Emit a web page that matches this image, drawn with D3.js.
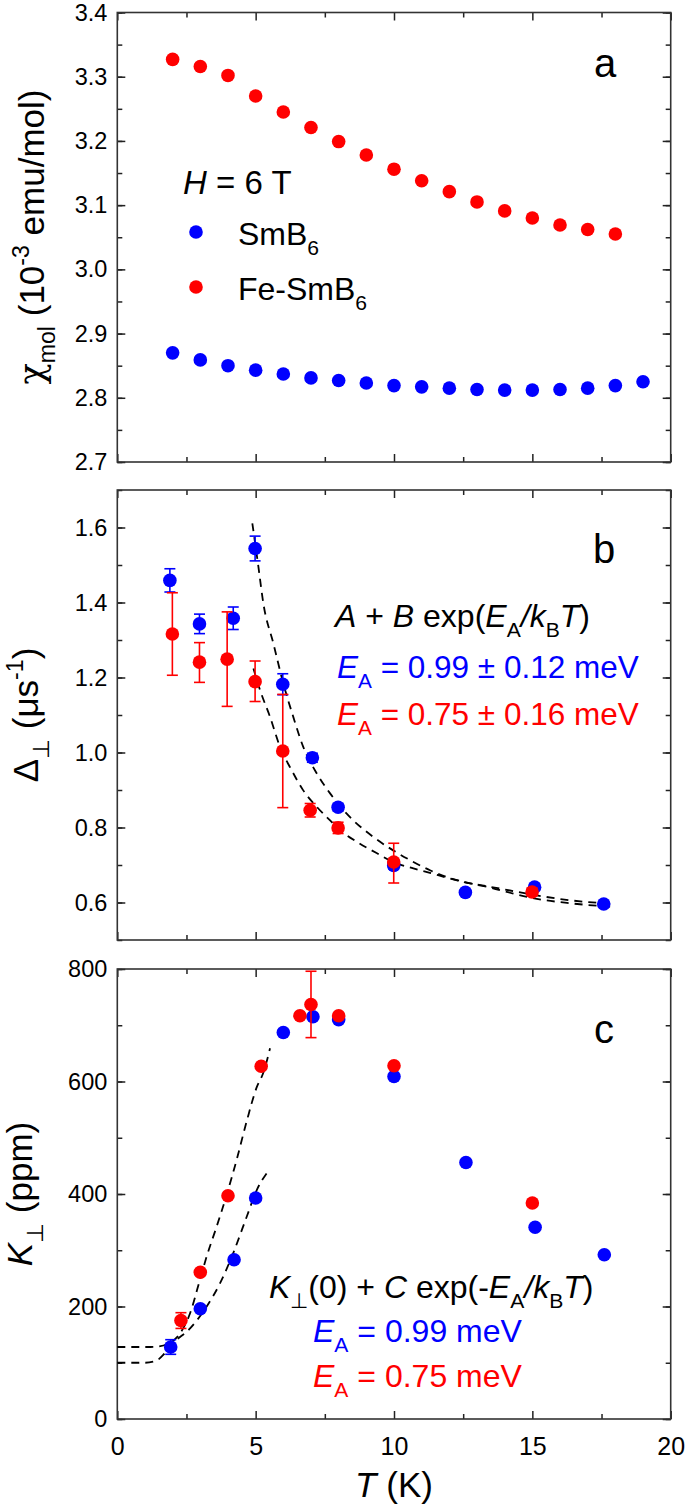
<!DOCTYPE html>
<html><head><meta charset="utf-8">
<script src="https://cdn.jsdelivr.net/npm/d3@7/dist/d3.min.js"></script>
<style>body{margin:0;background:#fff}svg{display:block}</style>
</head><body>
<script>
// ---------- data ----------
// panel a: susceptibility
const T_a_sm = [2,3,4,5,6,7,8,9,10,11,12,13,14,15,16,17,18,19];
const chi_sm = [2.870,2.859,2.850,2.843,2.837,2.831,2.827,2.823,2.819,2.817,2.815,2.813,2.812,2.812,2.813,2.815,2.819,2.825];
const T_a_fe = [2,3,4,5,6,7,8,9,10,11,12,13,14,15,16,17,18];
const chi_fe = [3.327,3.316,3.302,3.270,3.245,3.221,3.199,3.178,3.156,3.138,3.121,3.105,3.091,3.080,3.069,3.062,3.055];
// panel b: Delta_perp
const T_b_sm = [1.90,2.97,4.19,4.98,5.98,7.05,7.98,9.99,12.58,15.08,17.58];
const D_sm = [1.459,1.343,1.358,1.544,1.182,0.986,0.854,0.699,0.627,0.641,0.596];
const D_sm_err = [0.031,0.026,0.030,0.033,0.028,0.012,0.010,0.010,0.006,0.008,0.006];
const T_b_fe = [1.99,2.97,3.97,4.98,5.98,6.97,7.98,9.99,14.99];
const D_fe = [1.316,1.241,1.249,1.189,1.004,0.846,0.799,0.708,0.628];
const D_fe_hi = [1.426,1.293,1.375,1.244,1.155,0.864,0.814,0.758,0.638];
const D_fe_lo = [1.206,1.187,1.123,1.136,0.853,0.828,0.784,0.652,0.618];
// panel b fits
const fitB_sm_T = [4.88,5.10,5.28,5.64,6.0,6.36,6.72,7.21,7.69,8.29,8.53,9.25,9.97,10.58,11.30,11.90,12.75,13.47,14.19,14.92,16.36,17.81];
const fitB_sm_v = [1.611,1.495,1.397,1.291,1.184,1.095,1.015,0.944,0.891,0.837,0.819,0.775,0.739,0.713,0.686,0.668,0.651,0.640,0.626,0.613,0.598,0.589];
const fitB_fe_T = [4.92,5.16,5.52,5.88,6.30,6.72,7.21,7.69,7.99,8.65,9.37,9.97,10.70,11.30,12.02,12.75,13.47,14.19,14.92,16.36,17.81];
const fitB_fe_v = [1.224,1.166,1.095,1.015,0.953,0.899,0.855,0.819,0.797,0.762,0.732,0.708,0.691,0.679,0.664,0.651,0.642,0.632,0.622,0.606,0.597];
// panel c: Knight shift
const T_c_sm = [1.93,3.0,4.22,5.0,6.0,7.07,8.0,10.0,12.6,15.1,17.6];
const K_sm = [128,196,283,393,687,715,710,609,456,341,292];
const K_sm_err = [13,0,0,0,0,0,0,0,0,0,0];
const T_c_fe = [2.3,3.0,4.0,5.2,6.6,7.0,8.0,10.0,15.0];
const K_fe = [175,261,397,627,717,737,717,628,384];
const K_fe_hi = [189,261,397,627,717,796,717,628,384];
const K_fe_lo = [161,261,397,627,717,678,717,628,384];
// panel c fits
const fitC_fe_T = [0,1.2,1.5,1.8,2.15,2.63,3.0,3.23,3.59,3.95,4.32,4.68,5.04,5.28,5.52];
const fitC_fe_v = [128,128,129,133,145,188,250,289,342,398,462,530,590,616,659];
const fitC_sm_T = [0,1.0,1.42,1.7,2.02,2.63,3.23,3.71,4.19,4.68,5.04,5.40];
const fitC_sm_v = [100,100,104,116,135,161,200,241,295,360,407,437];
// axis ticks
const xMajor = [0,5,10,15,20], xMinor = [2.5,7.5,12.5,17.5];
const yA_major = [2.7,2.8,2.9,3.0,3.1,3.2,3.3,3.4];
const yB_major = [0.6,0.8,1.0,1.2,1.4,1.6];
const yC_major = [0,200,400,600,800];

const BLUE = '#0000ff', RED = '#ff0000', FONT = '"Liberation Sans", Arial, sans-serif';

const W = 685, H = 1509;
const svg = d3.select('body').append('svg').attr('width', W).attr('height', H)
  .attr('font-family', FONT);

const x = d3.scaleLinear().domain([0,20]).range([117.3, 670.7]);
const panels = [
  {key:'a', y: d3.scaleLinear().domain([2.7,3.4]).range([462,12.5]), major: yA_major, minorStep: 0.05, fmt: d3.format('.1f')},
  {key:'b', y: d3.scaleLinear().domain([0.5,1.7]).range([940,490]), major: yB_major, minorStep: 0.1, fmt: d3.format('.1f')},
  {key:'c', y: d3.scaleLinear().domain([0,800]).range([1419,969]), major: yC_major, minorStep: 100, fmt: d3.format('d')}
];

function minorTicks(dom, step){
  const out=[]; const n=Math.round((dom[1]-dom[0])/step);
  for(let i=0;i<=n;i++) out.push(+(dom[0]+i*step).toFixed(6));
  return out;
}

panels.forEach((p,i)=>{
  const g = svg.append('g');
  const [y0,y1] = p.y.range();
  const xl = x.range()[0], xr = x.range()[1];
  const mins = minorTicks(p.y.domain(), p.minorStep);
  const ax = (axis, tx, ty, vals, size, labels) => {
    const a = g.append('g').attr('transform',`translate(${tx},${ty})`)
      .call(axis.tickValues(vals).tickSizeInner(size).tickSizeOuter(0).tickPadding(10).tickFormat(labels||(()=> '')));
    a.select('.domain').remove();
    a.selectAll('.tick line').attr('stroke','#222').attr('stroke-width',1.5);
    a.selectAll('.tick text').attr('font-size',23.5).attr('fill','#000').attr('font-family',FONT);
    return a;
  };
  // left
  ax(d3.axisLeft(p.y), xl, 0, mins, -5);
  ax(d3.axisLeft(p.y), xl, 0, p.major, -8, p.fmt);
  // right
  ax(d3.axisRight(p.y), xr, 0, mins, -5);
  ax(d3.axisRight(p.y), xr, 0, p.major, -8);
  // top
  ax(d3.axisTop(x), 0, y1, xMinor, -5);
  ax(d3.axisTop(x), 0, y1, xMajor, -8);
  // bottom
  ax(d3.axisBottom(x), 0, y0, xMinor, -5);
  const bx = ax(d3.axisBottom(x), 0, y0, xMajor, -8, p.key==='c' ? d3.format('d') : null);
  if (p.key==='c') bx.selectAll('.tick text').attr('dy','1.05em').attr('font-size',25);
  g.append('rect').attr('x',xl).attr('y',y1).attr('width',xr-xl).attr('height',y0-y1)
    .attr('fill','none').attr('stroke','#333').attr('stroke-width',1.6);
  p.g = g;
});

function rich(sel, x0, y0, parts, opts){
  const fs = opts.size;
  const t = sel.append('text').attr('x',x0).attr('y',y0).attr('font-size',fs)
    .attr('fill',opts.fill||'#000').attr('text-anchor',opts.anchor||'start');
  if(opts.rotate) t.attr('transform',`rotate(-90,${x0},${y0})`);
  let cur=0;
  parts.forEach(pt=>{
    const target = pt.sub ? fs*0.32 : pt.sup ? -fs*0.42 : 0;
    const ts = t.append('tspan').attr('dy', target-cur).text(pt.t);
    cur = target;
    if(pt.sub||pt.sup) ts.attr('font-size', fs*0.66);
    if(pt.it) ts.attr('font-style','italic');
    if(pt.fill) ts.attr('fill',pt.fill);
    if(pt.ff) ts.attr('font-family',pt.ff);
  });
  return t;
}

const r = 6.8;
function dots(g, xs, ys, yS, color){
  g.selectAll(null).data(xs.map((v,i)=>[v,ys[i]])).join('circle')
    .attr('cx',d=>x(d[0])).attr('cy',d=>yS(d[1])).attr('r',r).attr('fill',color);
}
function errbars(g, xs, lo, hi, yS, color){
  const d = xs.map((v,i)=>[v,lo[i],hi[i]]).filter(e=>e[2]-e[1]>0);
  const eg = g.append('g').attr('stroke',color).attr('stroke-width',1.6);
  d.forEach(e=>{
    const cx=x(e[0]);
    eg.append('line').attr('x1',cx).attr('x2',cx).attr('y1',yS(e[1])).attr('y2',yS(e[2]));
    eg.append('line').attr('x1',cx-5.5).attr('x2',cx+5.5).attr('y1',yS(e[1])).attr('y2',yS(e[1]));
    eg.append('line').attr('x1',cx-5.5).attr('x2',cx+5.5).attr('y1',yS(e[2])).attr('y2',yS(e[2]));
  });
}
function fit(g, xs, ys, yS){
  const line = d3.line().x(d=>x(d[0])).y(d=>yS(d[1])).curve(d3.curveMonotoneX);
  g.append('path').attr('d', line(xs.map((v,i)=>[v,ys[i]])))
    .attr('fill','none').attr('stroke','#000').attr('stroke-width',1.8).attr('stroke-dasharray','8,6');
}

// ----- panel a -----
{
  const p = panels[0], g = p.g;
  dots(g, T_a_fe, chi_fe, p.y, RED);
  dots(g, T_a_sm, chi_sm, p.y, BLUE);
  g.append('text').attr('x',594).attr('y',77).attr('font-size',40).text('a');
  rich(g, 183, 194, [{t:'H',it:true},{t:' = 6 T'}], {size:33});
  g.append('circle').attr('cx',196).attr('cy',232).attr('r',r).attr('fill',BLUE);
  rich(g, 238, 245, [{t:'SmB'},{t:'6',sub:true}], {size:32});
  g.append('circle').attr('cx',196).attr('cy',287).attr('r',r).attr('fill',RED);
  rich(g, 238, 300, [{t:'Fe-SmB'},{t:'6',sub:true}], {size:32});
  rich(svg, 44, 237, [{t:'χ', ff:'"DejaVu Serif", serif'},{t:'mol',sub:true},{t:' (10'},{t:'-3',sup:true},{t:' emu/mol)'}], {size:35, rotate:true, anchor:'middle'});
}
// ----- panel b -----
{
  const p = panels[1], g = p.g;
  fit(g, fitB_sm_T, fitB_sm_v, p.y);
  fit(g, fitB_fe_T, fitB_fe_v, p.y);
  errbars(g, T_b_sm, D_sm.map((v,i)=>v-D_sm_err[i]), D_sm.map((v,i)=>v+D_sm_err[i]), p.y, BLUE);
  dots(g, T_b_sm, D_sm, p.y, BLUE);
  errbars(g, T_b_fe, D_fe_lo, D_fe_hi, p.y, RED);
  dots(g, T_b_fe, D_fe, p.y, RED);
  g.append('text').attr('x',593).attr('y',563).attr('font-size',40).text('b');
  rich(g, 335, 627, [{t:'A',it:true},{t:' + '},{t:'B',it:true},{t:' exp('},{t:'E',it:true},{t:'A',sub:true},{t:'/',it:true},{t:'k',it:true},{t:'B',sub:true},{t:'T',it:true},{t:')'}], {size:32});
  rich(g, 337, 678, [{t:'E',it:true},{t:'A',sub:true},{t:' = 0.99 ± 0.12 meV'}], {size:31.5, fill:BLUE});
  rich(g, 337, 725, [{t:'E',it:true},{t:'A',sub:true},{t:' = 0.75 ± 0.16 meV'}], {size:31.5, fill:RED});
  rich(svg, 38, 715, [{t:'Δ'},{t:'⊥',sub:true},{t:'  (μs'},{t:'-1',sup:true},{t:')'}], {size:35, rotate:true, anchor:'middle'});
}
// ----- panel c -----
{
  const p = panels[2], g = p.g;
  fit(g, fitC_fe_T, fitC_fe_v, p.y);
  fit(g, fitC_sm_T, fitC_sm_v, p.y);
  errbars(g, T_c_sm, K_sm.map((v,i)=>v-K_sm_err[i]), K_sm.map((v,i)=>v+K_sm_err[i]), p.y, BLUE);
  dots(g, T_c_sm, K_sm, p.y, BLUE);
  errbars(g, T_c_fe, K_fe_lo, K_fe_hi, p.y, RED);
  dots(g, T_c_fe, K_fe, p.y, RED);
  g.append('text').attr('x',594).attr('y',1043).attr('font-size',40).text('c');
  rich(g, 269, 1298, [{t:'K',it:true},{t:'⊥',sub:true},{t:'(0) + '},{t:'C',it:true},{t:' exp(-'},{t:'E',it:true},{t:'A',sub:true},{t:'/',it:true},{t:'k',it:true},{t:'B',sub:true},{t:'T',it:true},{t:')'}], {size:32});
  rich(g, 313, 1342, [{t:'E',it:true},{t:'A',sub:true},{t:' = 0.99 meV'}], {size:32, fill:BLUE});
  rich(g, 313, 1387, [{t:'E',it:true},{t:'A',sub:true},{t:' = 0.75 meV'}], {size:32, fill:RED});
  rich(svg, 32, 1194, [{t:'K',it:true},{t:'⊥',sub:true},{t:'  (ppm)'}], {size:35, rotate:true, anchor:'middle'});
  rich(svg, 394, 1497, [{t:'T',it:true},{t:' (K)'}], {size:35, anchor:'middle'});
}
</script>
</body></html>
